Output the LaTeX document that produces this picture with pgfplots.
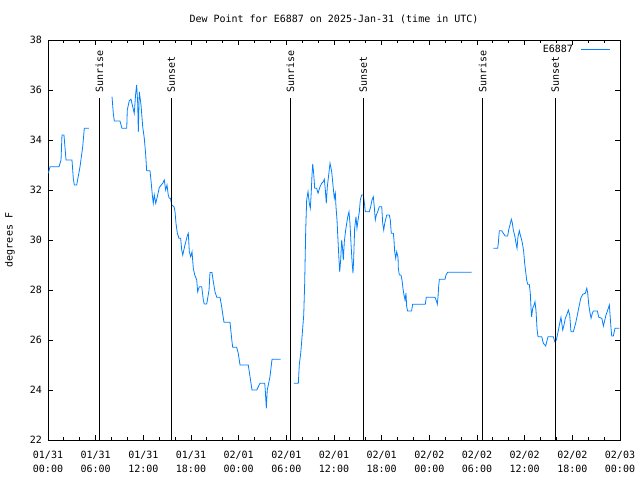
\documentclass[border=0pt]{standalone}
\usepackage{fontspec}
\setmainfont{DejaVu Sans Mono}
\usepackage{pgfplots}
\pgfplotsset{compat=1.18}
\definecolor{dew}{RGB}{0,128,255}
\begin{document}
\fontsize{10bp}{13bp}\selectfont
\begin{tikzpicture}
\path[use as bounding box] (-48bp,-40bp) rectangle (592bp,440bp);
\begin{axis}[
  at={(0,0)}, anchor=south west,
  scale only axis, width=572bp, height=400bp,
  xmin=0, xmax=72, ymin=22, ymax=38,
  xtick={0,6,...,72},
  minor x tick num=2,
  xticklabels={{01/31\\00:00},{01/31\\06:00},{01/31\\12:00},{01/31\\18:00},{02/01\\00:00},{02/01\\06:00},{02/01\\12:00},{02/01\\18:00},{02/02\\00:00},{02/02\\06:00},{02/02\\12:00},{02/02\\18:00},{02/03\\00:00}},
  xticklabel style={align=center, font=\fontsize{10bp}{13.5bp}\selectfont, inner sep=0pt, yshift=-11bp},
  ytick={22,24,...,38},
  yticklabel style={inner sep=0pt, xshift=-6bp},
  /pgf/number format/assume math mode=true,
  tick align=inside,
  major tick length=5bp, minor tick length=3bp,
  axis line style={line width=0.9bp},
  every tick/.style={black, line width=0.8bp},
  title={Dew Point for E6887 on 2025-Jan-31 (time in UTC)},
  title style={at={(0.5,1)}, anchor=south, inner sep=0pt, yshift=10bp},
  ylabel={degrees F},
  ylabel style={at={(axis description cs:-0.0664,0.5)}, anchor=center, inner sep=0pt},
  legend plot pos=right,
  legend style={draw=none, fill=none, at={(1,1)}, anchor=north east, xshift=-9bp, yshift=-3bp, inner sep=0pt, font=\fontsize{10bp}{12bp}\selectfont, /tikz/column 1/.style={column sep=6bp}},
  legend image code/.code={\draw[#1] (0bp,0bp) -- (29bp,0bp);},
]
% segment 1
\addplot[dew, line width=0.8bp] table {
x y
0.04 32.67
0.25 32.93
1.38 32.93
1.64 33.2
1.76 34.2
2.01 34.2
2.27 33.2
3.02 33.2
3.18 32.48
3.31 32.2
3.61 32.2
4.03 32.93
4.37 33.73
4.57 34.47
5.16 34.47
};
\addlegendentry{E6887}
% segment 2
\addplot[dew, line width=0.8bp, forget plot] table {
x y
8.06 35.73
8.22 35.07
8.35 34.76
9.06 34.76
9.31 34.47
9.91 34.47
9.98 35.2
10.23 35.57
10.45 35.63
10.66 35.33
10.86 35.07
11.04 35.87
11.16 36.2
11.29 35.47
11.37 34.33
11.49 35.93
11.71 35.4
11.92 34.53
12.12 34.07
12.30 33.4
12.42 32.77
12.84 32.77
12.96 32.4
13.13 31.8
13.25 31.47
13.38 31.8
13.56 31.47
13.76 31.73
14.01 32.1
14.44 32.27
14.64 32.4
14.81 32.0
14.98 32.2
15.14 31.8
15.27 31.67
15.42 31.67
15.57 31.4
15.86 31.33
15.99 31.13
16.11 30.67
16.28 30.27
16.49 30.07
16.70 30.07
16.83 29.6
16.96 29.4
17.24 29.8
17.53 30.16
17.66 30.27
17.79 29.53
17.96 29.33
18.13 29.53
18.29 28.87
18.47 28.6
18.72 28.4
18.84 27.93
19.04 28.13
19.35 28.13
19.55 27.6
19.67 27.44
19.98 27.44
20.27 28.0
20.39 28.7
20.64 28.7
20.81 28.33
21.02 27.93
21.24 27.71
21.65 27.71
21.86 27.33
22.15 26.71
22.91 26.71
23.16 25.93
23.25 25.71
23.75 25.71
23.95 25.47
24.17 25.0
25.21 25.0
25.43 24.53
25.68 24.0
26.27 24.0
26.69 24.27
27.28 24.27
27.35 24.0
27.48 23.27
27.60 24.0
27.78 24.27
27.94 24.53
28.20 25.23
29.29 25.23
};
% segment 3
\addplot[dew, line width=0.8bp, forget plot] table {
x y
30.96 24.27
31.51 24.27
31.63 25.0
31.81 25.47
31.93 25.93
32.06 26.47
32.19 27.0
32.31 28.27
32.44 30.4
32.56 31.6
32.73 31.93
32.89 31.47
33.02 31.27
33.14 31.93
33.23 32.6
33.32 33.04
33.44 32.67
33.57 32.07
33.82 32.07
33.99 31.87
34.24 32.13
34.45 32.27
34.65 32.33
34.78 32.43
34.91 32.0
35.03 31.47
35.16 32.13
35.33 32.6
35.50 33.07
35.71 32.73
35.91 32.07
36.04 31.67
36.17 31.87
36.25 31.33
36.38 30.8
36.50 30.0
36.63 29.2
36.72 28.73
36.84 29.2
36.97 30.0
37.09 29.6
37.17 29.2
37.30 29.93
37.47 30.4
37.60 30.67
37.73 30.93
37.89 31.13
38.01 30.67
38.14 29.87
38.26 29.2
38.39 28.67
38.48 29.27
38.60 30.47
38.77 30.93
38.89 30.47
39.06 30.87
39.19 31.13
39.31 31.6
39.49 31.8
39.69 31.8
39.81 31.53
39.94 31.13
40.44 31.13
40.62 31.33
40.78 31.6
40.95 31.73
41.07 31.33
41.20 30.8
41.33 31.0
41.50 31.13
41.70 31.33
42.01 31.33
42.13 30.67
42.26 30.4
42.39 30.67
42.64 31.0
42.96 31.0
43.09 30.8
43.21 30.27
43.47 30.27
43.55 30.0
43.64 29.53
43.77 29.27
43.89 29.53
44.06 29.31
44.10 28.87
44.22 28.6
44.43 28.6
44.56 28.4
44.68 28.07
44.81 27.8
44.94 27.6
45.06 27.87
45.15 27.33
45.27 27.16
45.77 27.16
45.90 27.43
47.49 27.43
47.62 27.71
48.71 27.71
48.93 27.53
49.00 27.43
49.09 27.71
49.18 28.16
49.26 28.43
49.97 28.43
50.10 28.6
50.31 28.71
53.33 28.71
};
% segment 4
\addplot[dew, line width=0.8bp, forget plot] table {
x y
56.05 29.67
56.61 29.67
56.68 29.87
56.81 30.37
57.11 30.37
57.31 30.27
57.56 30.16
57.86 30.16
57.99 30.4
58.15 30.6
58.32 30.83
58.44 30.7
58.57 30.4
58.78 30.13
58.91 29.87
59.04 29.67
59.16 30.13
59.33 30.37
59.45 30.2
59.63 30.0
59.75 29.8
59.88 29.53
60.00 29.07
60.13 28.73
60.25 28.4
60.38 28.23
60.58 28.23
60.71 27.87
60.80 27.27
60.88 26.93
61.01 27.27
61.18 27.4
61.30 27.53
61.43 27.17
61.56 26.43
61.68 26.13
62.15 26.13
62.35 25.87
62.65 25.76
62.78 25.93
62.94 26.13
63.61 26.13
63.79 25.93
63.99 26.0
64.17 26.27
64.37 26.6
64.57 26.91
64.79 26.4
64.95 26.6
65.12 26.87
65.29 27.0
65.50 27.2
65.67 27.0
65.83 26.33
66.12 26.33
66.25 26.47
66.43 26.69
66.59 26.93
66.80 27.27
67.06 27.67
67.31 27.83
67.64 27.87
67.82 28.07
67.94 27.87
68.07 27.4
68.23 27.07
68.36 26.87
68.52 27.07
68.65 27.16
69.15 27.16
69.33 26.91
69.71 26.87
69.91 26.56
70.24 27.0
70.53 27.27
70.66 27.4
70.78 26.87
70.87 26.47
70.96 26.16
71.16 26.16
71.37 26.47
71.91 26.47
};
% sunrise / sunset lines
\addplot[black, line width=1bp, forget plot] coordinates {(6.46,22) (6.46,35.68)};
\addplot[black, line width=1bp, forget plot] coordinates {(15.52,22) (15.52,35.68)};
\addplot[black, line width=1bp, forget plot] coordinates {(30.50,22) (30.50,35.68)};
\addplot[black, line width=1bp, forget plot] coordinates {(39.69,22) (39.69,35.68)};
\addplot[black, line width=1bp, forget plot] coordinates {(54.71,22) (54.71,35.68)};
\addplot[black, line width=1bp, forget plot] coordinates {(63.86,22) (63.86,35.68)};
\node[rotate=90, anchor=west, inner sep=0pt] at (axis cs:6.46,35.88) {Sunrise};
\node[rotate=90, anchor=west, inner sep=0pt] at (axis cs:15.52,35.88) {Sunset};
\node[rotate=90, anchor=west, inner sep=0pt] at (axis cs:30.50,35.88) {Sunrise};
\node[rotate=90, anchor=west, inner sep=0pt] at (axis cs:39.69,35.88) {Sunset};
\node[rotate=90, anchor=west, inner sep=0pt] at (axis cs:54.71,35.88) {Sunrise};
\node[rotate=90, anchor=west, inner sep=0pt] at (axis cs:63.86,35.88) {Sunset};
\end{axis}
\end{tikzpicture}
\end{document}
